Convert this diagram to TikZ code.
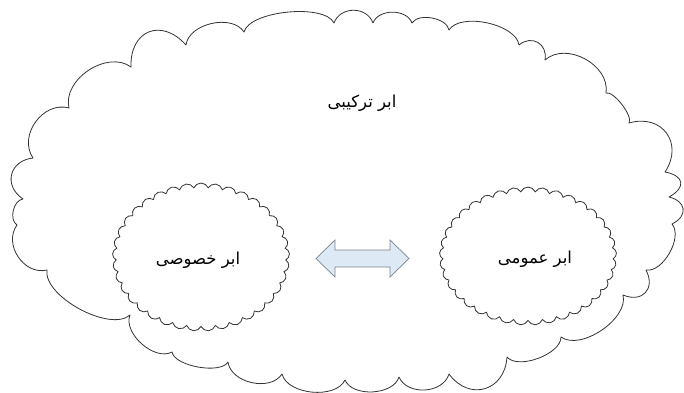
\documentclass[tikz,border=0pt]{standalone}
\usepackage{fontspec}
\usetikzlibrary{shapes.symbols}
\TeXXeTstate=1
\newfontfamily\arabicfont[Script=Arabic]{DejaVu Sans}
\definecolor{linegray}{HTML}{333333}
\definecolor{arrowfill}{HTML}{DDE9F4}
\definecolor{arrowline}{HTML}{7A8490}
\begin{document}
\begin{tikzpicture}[x=1pt,y=-1pt,
  cloudline/.style={draw=linegray, line width=0.8pt},
  puff/.style={bend left=70, looseness=#1},
  smallcloud/.style={cloudline, cloud, fill=white, cloud puffs=37, cloud puff arc=135},
  label/.style={font=\arabicfont\fontsize{16.5}{18}\selectfont, text=black, inner sep=0pt}
]
\fill[white] (0,0) rectangle (684,392);
\useasboundingbox (0,0) rectangle (684,392);
% big hybrid cloud: cusp points
\coordinate (p1) at (33,158);
\coordinate (p2) at (69,108);
\coordinate (p3) at (131,67);
\coordinate (p4) at (186,45);
\coordinate (p5) at (244,32);
\coordinate (p6) at (334,23);
\coordinate (p7) at (373,23);
\coordinate (p8) at (412,23);
\coordinate (p9) at (449,30);
\coordinate (p10) at (519,45);
\coordinate (p11) at (545,60);
\coordinate (p12) at (606,93);
\coordinate (p13) at (629,123);
\coordinate (p14) at (665,172);
\coordinate (p15) at (669,197);
\coordinate (p16) at (672,224);
\coordinate (p17) at (646,270);
\coordinate (p18) at (623,295);
\coordinate (p19) at (561,337);
\coordinate (p20) at (507,357);
\coordinate (p21) at (449,374);
\coordinate (p22) at (399,377);
\coordinate (p23) at (345,380);
\coordinate (p24) at (282,374);
\coordinate (p25) at (228,362);
\coordinate (p26) at (172,352);
\coordinate (p27) at (130,315);
\coordinate (p28) at (47,270);
\coordinate (p29) at (17,225);
\coordinate (p30) at (23,199);
\draw[cloudline, line join=round]
  (p1) to[puff=1.12] (p2) to[puff=1.01] (p3) to[puff=1.59] (p4)
  to[puff=0.94] (p5) to[puff=0.62] (p6) to[puff=1.19] (p7)
  to[puff=1.01] (p8) to[puff=0.83] (p9) to[puff=0.76] (p10)
  to[puff=1.41] (p11) to[puff=1.05] (p12) to[puff=0.54] (p13)
  to[puff=1.45] (p14) to[puff=2.0] (p15) to[puff=1.7] (p16)
  to[puff=0.83] (p17) to[puff=1.59] (p18) to[puff=0.83] (p19)
  to[puff=0.76] (p20) to[puff=1.45] (p21) to[puff=1.05] (p22)
  to[puff=0.9] (p23) to[puff=0.87] (p24) to[puff=0.98] (p25)
  to[puff=0.65] (p26) to[puff=0.9] (p27) to[puff=0.72] (p28)
  to[puff=1.12] (p29) to[puff=0.94] (p30) to[puff=1.45] (p1);
\node[label] (hybridlabel) at (362,103) {\beginR ابر ترکیبی\endR};
\node[smallcloud, minimum width=177pt, minimum height=148pt] (private) at (201,257) {};
\node[label] (privatelabel) at (198,260) {\beginR ابر خصوصی\endR};
\node[smallcloud, minimum width=177pt, minimum height=138pt] (public) at (528,256) {};
\node[label] (publiclabel) at (535,259) {\beginR ابر عمومی\endR};
\coordinate (arrowc) at (362.5,258.5);
\draw[draw=arrowline, fill=arrowfill, line width=0.7pt, line join=miter]
  ([xshift=-46.5pt]arrowc) -- ++(19,-18.5) -- ++(0,10) -- ++(55,0) -- ++(0,-10)
  -- ++(19,18.5) -- ++(-19,18.5) -- ++(0,-10) -- ++(-55,0) -- ++(0,10) -- cycle;
\end{tikzpicture}
\end{document}
